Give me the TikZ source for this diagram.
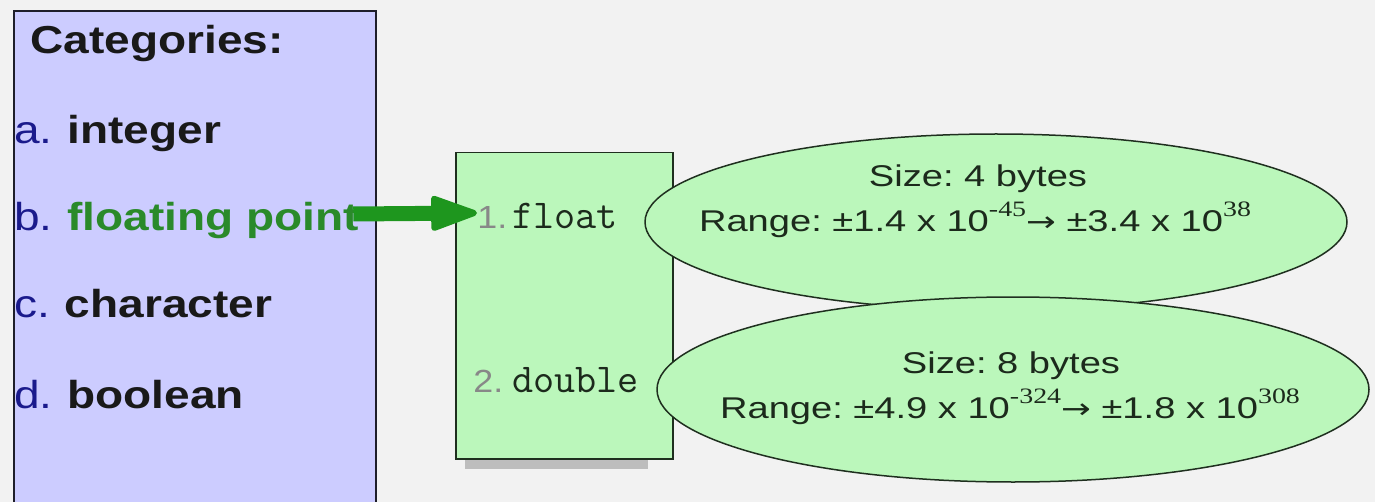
\documentclass[tikz,border=0pt]{standalone}
\usepackage{fontspec}
\setmainfont{Liberation Sans}
\newfontfamily\serifsup{Liberation Serif}
\newfontfamily\arrowfont{DejaVu Sans}
\usetikzlibrary{shapes.geometric,arrows.meta}
\definecolor{bg}{HTML}{F2F2F2}
\definecolor{lav}{HTML}{CCCCFF}
\definecolor{lgreen}{HTML}{BBF7BB}
\definecolor{navy}{HTML}{1A1A8C}
\definecolor{dgreen}{HTML}{1E961E}
\definecolor{fpgreen}{HTML}{2A8A2A}
\definecolor{txtg}{HTML}{1C2A1C}
\definecolor{edgec}{HTML}{1F2F1F}
\definecolor{boxedge}{HTML}{1E1E2A}
\definecolor{numgray}{HTML}{888888}
\definecolor{shadowc}{HTML}{BDBDBD}
\newcommand\hs[2]{\scalebox{#1}[1]{#2}}
\newcommand\sups[1]{\raisebox{7.5pt}{\serifsup\fontsize{11}{11}\selectfont #1}}
\newcommand\rarr{{\arrowfont\fontsize{14}{14}\selectfont →}}
\frenchspacing
\begin{document}
\begin{tikzpicture}[x=0.5pt,y=-0.5pt,
  cat/.style={anchor=base west, inner sep=0pt, font=\fontsize{19.5}{20}\selectfont\bfseries, text=black!90},
  etxt/.style={anchor=base, inner sep=0pt, font=\fontsize{15}{15}\selectfont, text=txtg},
  ttxt/.style={anchor=base west, inner sep=0pt, font=\ttfamily\fontsize{20.5}{21}\selectfont, text=txtg},
  ntxt/.style={anchor=base west, inner sep=0pt, font=\fontsize{16}{16}\selectfont, text=numgray},
  greenshape/.style={draw=edgec, fill=lgreen, line width=0.75pt, inner sep=0pt},
  bigarrow/.style={dgreen, line width=7.5pt, -{Triangle[length=26pt, width=18pt, line width=3pt, round]}}
]
\useasboundingbox (0,0) rectangle (1375,502);
\fill[bg] (0,0) rectangle (1375,502);

% left categories box
\node[draw=boxedge, fill=lav, line width=1pt, minimum width=181pt, minimum height=260pt, inner sep=0pt, anchor=north west] (cats) at (13,10) {};
\node[cat] (hd) at (30,54) {\hs{1.18}{Categories:}};
\node[cat] (la) at (14,144) {\hs{1.18}{\textcolor{navy}{\mdseries a.}\hspace{0.32em}integer}};
\node[cat, text=fpgreen] (fp) at (14,231) {\hs{1.18}{\textcolor{navy}{\mdseries b.}\hspace{0.32em}floating point}};
\node[cat] (lc) at (14,317) {\hs{1.18}{\textcolor{navy}{\mdseries c.}\hspace{0.32em}character}};
\node[cat] (ld) at (14,408) {\hs{1.18}{\textcolor{navy}{\mdseries d.}\hspace{0.32em}boolean}};

% middle types box with shadow
\fill[shadowc] (465,456) rectangle (648,469);
\node[greenshape, minimum width=108.5pt, minimum height=153pt, anchor=north west] (types) at (455,152) {};
\node[ntxt] (n1) at (477,228) {\hs{1.12}{1.}};
\node[ttxt] (tf) at (512,228) {float};
\node[ntxt] (n2) at (473,392) {\hs{1.12}{2.}};
\node[ttxt] (td) at (512,392) {double};

% ellipses
\node[greenshape, ellipse, minimum width=351pt, minimum height=88pt] (e1) at (996,222) {};
\node[greenshape, ellipse, minimum width=356pt, minimum height=92.5pt] (e2) at (1013,389.5) {};
\node[etxt] (s1) at (978,187) {\hs{1.27}{Size: 4 bytes}};
\node[etxt] (r1) at (975,232) {\hs{1.27}{Range: ±1.4 x 10\sups{-45}\rarr\ ±3.4 x 10\sups{38}}};
\node[etxt] (s2) at (1011,373) {\hs{1.27}{Size: 8 bytes}};
\node[etxt] (r2) at (1010,418) {\hs{1.27}{Range: ±4.9 x 10\sups{-324}\rarr\ ±1.8 x 10\sups{308}}};

% arrow
\draw[bigarrow] ([xshift=-3pt,yshift=8.5pt]fp.base east) -- ([yshift=7.5pt]n1.base west);
\end{tikzpicture}
\end{document}
